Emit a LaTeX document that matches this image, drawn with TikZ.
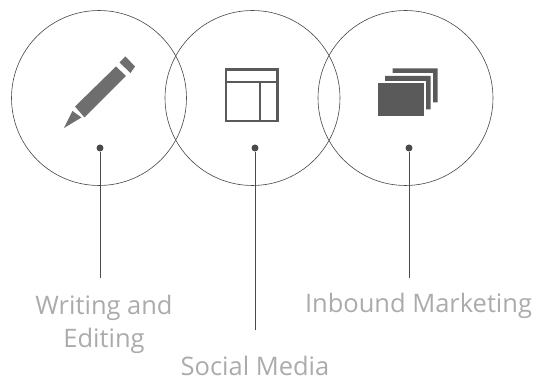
\documentclass[tikz,border=0pt]{standalone}
\usepackage{fontspec}
\setmainfont{Open Sans}
\definecolor{ringgray}{HTML}{4A4A4A}
\definecolor{pencilgray}{HTML}{6E6E6E}
\definecolor{icongray}{HTML}{5A5A5A}
\definecolor{labelgray}{HTML}{ABABAB}
\tikzset{
  ring/.style = {circle, draw=ringgray, line width=0.35pt, minimum size=3.5cm, inner sep=0pt},
  pin/.style = {circle, fill=ringgray, minimum size=0.14cm, inner sep=0pt},
  lead/.style = {draw=ringgray, line width=0.35pt},
  caption/.style = {text=labelgray, font=\fontsize{14.5}{18.8}\selectfont, align=center, inner sep=0pt}
}
\begin{document}
\begin{tikzpicture}[x=0.02cm,y=-0.02cm]
    \useasboundingbox (0,0) rectangle (535,378);

    \node[ring] (writing) at (99,98) {};
    \node[ring] (social) at (252.5,98) {};
    \node[ring] (inbound) at (405.5,98) {};

    \node[pin] (writingpin) at (100,148) {};
    \node[pin] (socialpin) at (255,148) {};
    \node[pin] (inboundpin) at (409,148) {};

    \coordinate (writingend) at (100,278);
    \coordinate (socialend) at (255,330);
    \coordinate (inboundend) at (409,278);

    \draw[lead] (writingpin) -- (writingend);
    \draw[lead] (socialpin) -- (socialend);
    \draw[lead] (inboundpin) -- (inboundend);

    \node[caption] (writinglabel) at (104,324.5) {Writing and\\Editing};
    \node[caption] (sociallabel) at (255,366) {Social Media};
    \node[caption] (inboundlabel) at (418.5,305.5) {Inbound Marketing};

    % pencil
    \fill[pencilgray] (64,128) -- (72.5,111) -- (81.5,117.5) -- cycle;
    \fill[pencilgray] (75,106.5) -- (116,66.5) -- (126,76) -- (84.5,117.5) -- cycle;
    \fill[pencilgray] (119.5,62.5) -- (125.5,56.5) -- (135,66.5) -- (130.5,73) -- cycle;

    % layout
    \draw[icongray, line width=1.3pt] (226,69.5) rectangle (277.5,121);
    \draw[icongray, line width=1.3pt] (226,82.3) -- (277.5,82.3);
    \draw[icongray, line width=1.3pt] (260.3,82.3) -- (260.3,121);

    % stack
    \fill[icongray] (392.5,68.5) -- (437.5,68.5) -- (437.5,102.5) -- (433,102.5) -- (433,73) -- (392.5,73) -- cycle;
    \fill[icongray] (385,76) -- (430.5,76) -- (430.5,109.5) -- (426,109.5) -- (426,81) -- (385,81) -- cycle;
    \fill[icongray] (377.5,83.5) rectangle (423.5,116.5);
\end{tikzpicture}
\end{document}
